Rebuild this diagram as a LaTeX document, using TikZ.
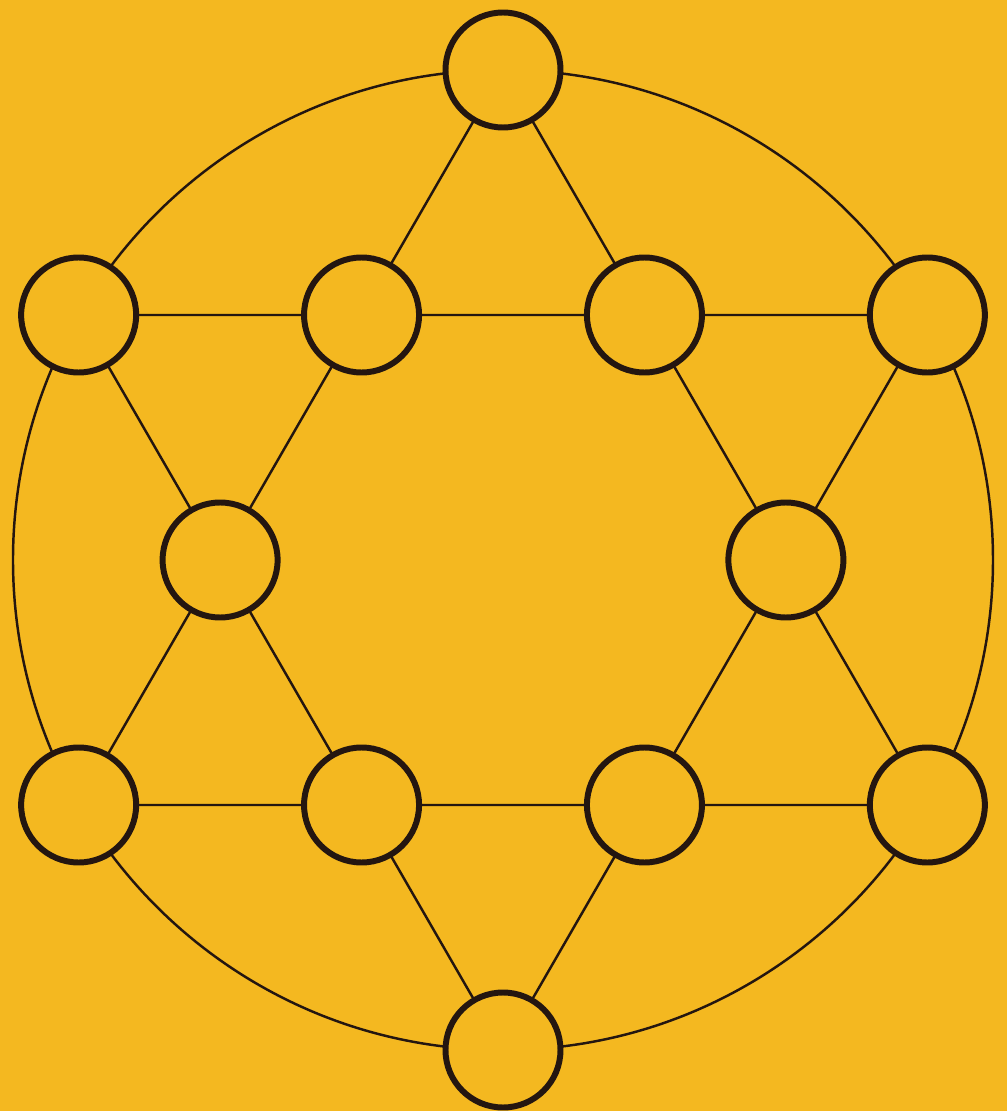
\documentclass[tikz,border=0pt]{standalone}
\definecolor{nen}{RGB}{244,184,32}
\definecolor{muc}{RGB}{36,22,16}
\begin{document}
\begin{tikzpicture}[line cap=round, line join=round,
	o/.style={circle, draw=muc, line width=1.7pt, fill=nen, minimum size=1.15cm, inner sep=0pt},
	canh/.style={muc, line width=0.7pt}]
	
	% Bán kính đường tròn lớn và lục giác trong
	\def\R{4.9} \def\r{2.829}
	
	% Nền
	\fill[nen] (-5.03,-5.51) rectangle (5.04,5.60);
	
	% Đường tròn lớn
	\draw[canh] (0,0) circle (\R);
	
	% Sáu đỉnh ngoài
	\node[o] (T) at (90:\R) {};
	\node[o] (PT) at (30:\R) {};
	\node[o] (PD) at (-30:\R) {};
	\node[o] (D) at (-90:\R) {};
	\node[o] (TD) at (-150:\R) {};
	\node[o] (TT) at (150:\R) {};
	
	% Sáu đỉnh trong
	\node[o] (i1) at (0:\r) {};
	\node[o] (i2) at (60:\r) {};
	\node[o] (i3) at (120:\r) {};
	\node[o] (i4) at (180:\r) {};
	\node[o] (i5) at (-120:\r) {};
	\node[o] (i6) at (-60:\r) {};
	
	% Tam giác hướng lên
	\draw[canh] (T) -- (i3) (i3) -- (i4) (i4) -- (TD);
	\draw[canh] (TD) -- (i5) (i5) -- (i6) (i6) -- (PD);
	\draw[canh] (PD) -- (i1) (i1) -- (i2) (i2) -- (T);
	
	% Tam giác hướng xuống
	\draw[canh] (D) -- (i5) (i5) -- (i4) (i4) -- (TT);
	\draw[canh] (TT) -- (i3) (i3) -- (i2) (i2) -- (PT);
	\draw[canh] (PT) -- (i1) (i1) -- (i6) (i6) -- (D);
	
\end{tikzpicture}
\end{document}
